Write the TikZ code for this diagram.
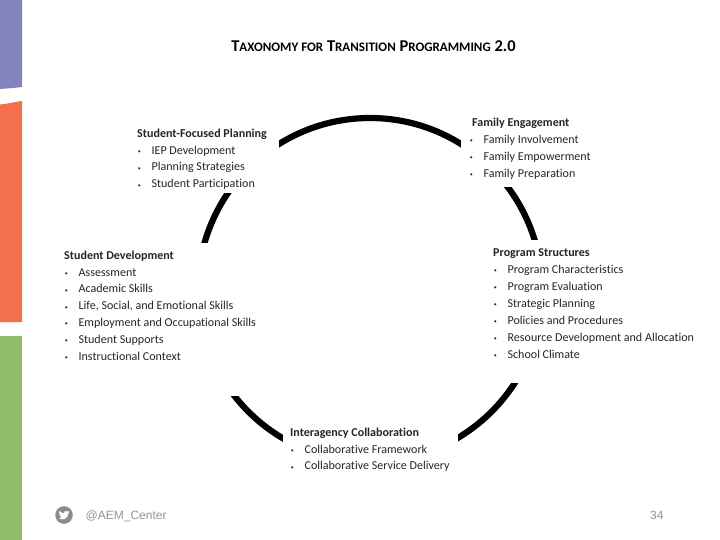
\documentclass[tikz,border=0pt]{standalone}
\usepackage{fontspec}
\setmainfont{Carlito}[Ligatures=NoCommon]
\newfontfamily\footfont{Liberation Sans}
\definecolor{barpurple}{HTML}{8083BD}
\definecolor{barorange}{HTML}{F4704F}
\definecolor{bargreen}{HTML}{8FBE6B}
\definecolor{inkdark}{HTML}{262626}
\newcommand\blt[1]{\makebox[14.4pt][l]{\hspace{0.6pt}\raisebox{0.8pt}{\fontsize{6}{6}\selectfont\textbullet}}#1}
\newcommand\lowcaps[1]{{\fontsize{13}{16}\selectfont #1}}
\tikzset{
  block/.style={anchor=north west,inner sep=0pt,align=left,text=inkdark,font=\fontsize{12.05}{16.9}\selectfont},
  footer/.style={text=gray!85,font=\footfont\fontsize{12}{14}\selectfont}
}
\begin{document}
\begin{tikzpicture}[x=1pt,y=-1pt]
  \useasboundingbox (0,0) rectangle (720,540);
  % side bars
  \fill[barpurple] (0,0) -- (22,0) -- (22,87) .. controls (14,88) and (7,88.5) .. (0,89) -- cycle;
  \fill[barorange] (0,104.5) .. controls (7,104) and (14,102) .. (22,101) -- (22,322) -- (0,322) -- cycle;
  \fill[bargreen] (0,336) rectangle (22,540);
  % ring, then the gaps for the text
  \draw[line width=6.2pt] (370,290) circle (172);
  \foreach \xa/\ya/\xb/\yb in {100/105/279/193,461/105/690/187.5,50/243/262/396,490/240/705/383,283/420/458/480}{
    \fill[white] (\xa,\ya) rectangle (\xb,\yb);
  }
  \node[anchor=base,text=black,font=\bfseries\fontsize{16.5}{18}\selectfont] (title) at (373.5,52) {T\lowcaps{AXONOMY FOR} T\lowcaps{RANSITION} P\lowcaps{ROGRAMMING} 2.0};
  \node[block] (planning) at (137,128.5) {\textbf{Student-Focused Planning}\\
    \blt{IEP Development}\\ \blt{Planning Strategies}\\ \blt{Student Participation}};
  \node[block] (family) at (472,118) {\textbf{Family Engagement}\\
    \hspace{-3pt}\blt{Family Involvement}\\ \hspace{-3pt}\blt{Family Empowerment}\\ \hspace{-3pt}\blt{Family Preparation}};
  \node[block] (development) at (64,250.5) {\textbf{Student Development}\\
    \blt{Assessment}\\ \blt{Academic Skills}\\ \blt{Life, Social, and Emotional Skills}\\
    \blt{Employment and Occupational Skills}\\ \blt{Student Supports}\\ \blt{Instructional Context}};
  \node[block] (structures) at (493,248.5) {\textbf{Program Structures}\\
    \blt{Program Characteristics}\\ \blt{Program Evaluation}\\ \blt{Strategic Planning}\\
    \blt{Policies and Procedures}\\ \blt{Resource Development and Allocation}\\ \blt{School Climate}};
  \node[block] (interagency) at (290,427.5) {\textbf{Interagency Collaboration}\\
    \blt{Collaborative Framework}\\ \blt{Collaborative Service Delivery}};
  % footer
  \fill[gray!90] (64,515) circle (8.8);
  \fill[white,shift={(64,515)}] (-5,3.6) .. controls (-2,5.5) and (4.5,4) .. (4.5,-2) -- (5.6,-3.2) -- (4.2,-2.9) -- (5,-4.2) -- (3.5,-3.5)
    .. controls (2,-5) and (-0.5,-3.8) .. (0,-1.8) .. controls (-2,-1.9) and (-3.6,-2.9) .. (-4.6,-4.2)
    .. controls (-5.2,-3) and (-4.8,-1.8) .. (-3.9,-1.2) -- (-5,-1.5) .. controls (-5,-0.3) and (-4,0.6) .. (-3.2,0.9)
    -- (-4.3,1) .. controls (-3.9,1.9) and (-3,2.4) .. (-2.2,2.5) .. controls (-3,3.2) and (-4,3.6) .. (-5,3.6) -- cycle;
  \node[footer,anchor=base west,inner sep=0pt] (handle) at (85.5,519) {@AEM\_Center};
  \node[footer,anchor=base west,inner sep=0pt] (pageno) at (650,519) {34};
\end{tikzpicture}
\end{document}
